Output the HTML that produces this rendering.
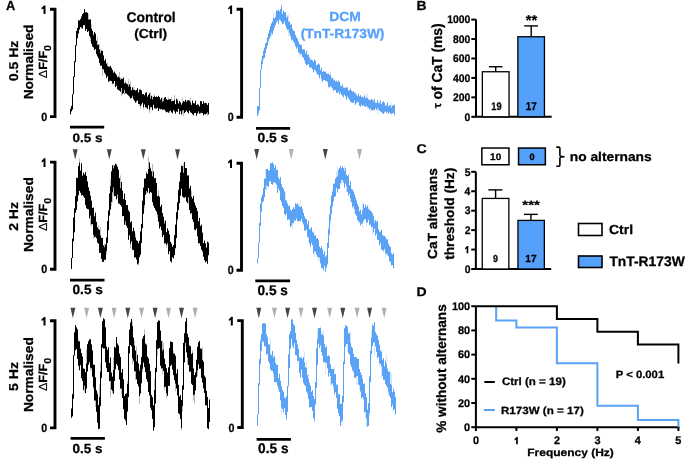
<!DOCTYPE html>
<html><head><meta charset="utf-8"><style>
html,body{margin:0;padding:0;background:#fff;}
svg{display:block;font-family:"Liberation Sans",sans-serif;will-change:transform;}
text{text-rendering:geometricPrecision;}
</style></head><body>
<svg width="685" height="460" viewBox="0 0 685 460">
<rect width="685" height="460" fill="#fff"/>
<text transform="translate(6.08,10.40) scale(0.980,1)" font-size="13.08" fill="#000" font-weight="bold" stroke="#000" stroke-width="0.26" >A</text>
<path d="M50.0,9.25 H55.0 V116.6 H50.0" fill="none" stroke="#000" stroke-width="2.9"/>
<polygon points="45.50,5.45 45.50,14.05 43.50,14.05 43.50,8.45 41.60,9.55 41.60,7.85 44.00,5.45" fill="#000"/>
<text transform="translate(41.13,120.63) scale(0.904,1)" font-size="11.86" fill="#000" font-weight="bold" stroke="#000" stroke-width="0.26" >0</text>
<line x1="70.0" y1="127.1" x2="104.2" y2="127.1" stroke="#000" stroke-width="2.8" stroke-linecap="butt"/>
<text transform="translate(72.51,141.73) scale(1.101,1)" font-size="12.29" fill="#000" font-weight="bold" stroke="#000" stroke-width="0.26" >0.5 s</text>
<path d="M236.6,9.3 H241.6 V117.3 H236.6" fill="none" stroke="#000" stroke-width="2.9"/>
<polygon points="232.10,5.50 232.10,14.10 230.10,14.10 230.10,8.50 228.20,9.60 228.20,7.90 230.60,5.50" fill="#000"/>
<text transform="translate(227.73,121.33) scale(0.904,1)" font-size="11.86" fill="#000" font-weight="bold" stroke="#000" stroke-width="0.26" >0</text>
<line x1="256.0" y1="128.4" x2="290.1" y2="128.4" stroke="#000" stroke-width="2.8" stroke-linecap="butt"/>
<text transform="translate(257.50,142.02) scale(1.055,1)" font-size="13.14" fill="#000" font-weight="bold" stroke="#000" stroke-width="0.26" >0.5 s</text>
<text transform="translate(18.03,81.31) rotate(-90) scale(1.107,1)" font-size="12.71" fill="#000" font-weight="bold" stroke="#000" stroke-width="0.26" >0.5 Hz</text>
<text transform="translate(32.72,99.37) rotate(-90) scale(1.052,1)" font-size="13.07" fill="#000" font-weight="bold" stroke="#000" stroke-width="0.26" >Normalised</text>
<text transform="translate(47.10,78.28) rotate(-90) scale(1.07,1)" font-size="11.8" font-weight="bold" stroke="#000" stroke-width="0.26"><tspan font-weight="normal" stroke-width="0.1">Δ</tspan>F/F<tspan font-size="10" dy="4.1" stroke-width="0.15">0</tspan></text>
<path d="M50.0,162.1 H55.0 V269.3 H50.0" fill="none" stroke="#000" stroke-width="2.9"/>
<polygon points="45.50,158.30 45.50,166.90 43.50,166.90 43.50,161.30 41.60,162.40 41.60,160.70 44.00,158.30" fill="#000"/>
<text transform="translate(41.13,273.33) scale(0.904,1)" font-size="11.86" fill="#000" font-weight="bold" stroke="#000" stroke-width="0.26" >0</text>
<line x1="70.0" y1="280.1" x2="104.5" y2="280.1" stroke="#000" stroke-width="2.8" stroke-linecap="butt"/>
<text transform="translate(72.51,294.12) scale(1.019,1)" font-size="13.42" fill="#000" font-weight="bold" stroke="#000" stroke-width="0.26" >0.5 s</text>
<path d="M236.5,163.2 H241.5 V270.3 H236.5" fill="none" stroke="#000" stroke-width="2.9"/>
<polygon points="232.00,159.40 232.00,168.00 230.00,168.00 230.00,162.40 228.10,163.50 228.10,161.80 230.50,159.40" fill="#000"/>
<text transform="translate(227.63,274.33) scale(0.904,1)" font-size="11.86" fill="#000" font-weight="bold" stroke="#000" stroke-width="0.26" >0</text>
<line x1="255.3" y1="280.95" x2="290.1" y2="280.95" stroke="#000" stroke-width="2.8" stroke-linecap="butt"/>
<text transform="translate(257.51,294.51) scale(0.978,1)" font-size="13.98" fill="#000" font-weight="bold" stroke="#000" stroke-width="0.26" >0.5 s</text>
<text transform="translate(18.15,230.79) rotate(-90) scale(1.086,1)" font-size="12.89" fill="#000" font-weight="bold" stroke="#000" stroke-width="0.26" >2 Hz</text>
<text transform="translate(32.72,252.07) rotate(-90) scale(1.052,1)" font-size="13.07" fill="#000" font-weight="bold" stroke="#000" stroke-width="0.26" >Normalised</text>
<text transform="translate(47.10,231.08) rotate(-90) scale(1.07,1)" font-size="11.8" font-weight="bold" stroke="#000" stroke-width="0.26"><tspan font-weight="normal" stroke-width="0.1">Δ</tspan>F/F<tspan font-size="10" dy="4.1" stroke-width="0.15">0</tspan></text>
<path d="M50.0,320.7 H55.0 V427.9 H50.0" fill="none" stroke="#000" stroke-width="2.9"/>
<polygon points="45.50,316.90 45.50,325.50 43.50,325.50 43.50,319.90 41.60,321.00 41.60,319.30 44.00,316.90" fill="#000"/>
<text transform="translate(41.13,431.93) scale(0.904,1)" font-size="11.86" fill="#000" font-weight="bold" stroke="#000" stroke-width="0.26" >0</text>
<line x1="70.6" y1="438.3" x2="104.9" y2="438.3" stroke="#000" stroke-width="2.8" stroke-linecap="butt"/>
<text transform="translate(72.51,452.52) scale(1.030,1)" font-size="13.14" fill="#000" font-weight="bold" stroke="#000" stroke-width="0.26" >0.5 s</text>
<path d="M237.3,320.6 H242.3 V427.5 H237.3" fill="none" stroke="#000" stroke-width="2.9"/>
<polygon points="232.80,316.80 232.80,325.40 230.80,325.40 230.80,319.80 228.90,320.90 228.90,319.20 231.30,316.80" fill="#000"/>
<text transform="translate(228.43,431.53) scale(0.904,1)" font-size="11.86" fill="#000" font-weight="bold" stroke="#000" stroke-width="0.26" >0</text>
<line x1="256.6" y1="439.3" x2="290.9" y2="439.3" stroke="#000" stroke-width="2.8" stroke-linecap="butt"/>
<text transform="translate(258.11,452.61) scale(0.978,1)" font-size="13.98" fill="#000" font-weight="bold" stroke="#000" stroke-width="0.26" >0.5 s</text>
<text transform="translate(18.02,390.98) rotate(-90) scale(1.095,1)" font-size="12.90" fill="#000" font-weight="bold" stroke="#000" stroke-width="0.26" >5 Hz</text>
<text transform="translate(32.72,412.07) rotate(-90) scale(1.052,1)" font-size="13.07" fill="#000" font-weight="bold" stroke="#000" stroke-width="0.26" >Normalised</text>
<text transform="translate(47.10,391.08) rotate(-90) scale(1.07,1)" font-size="11.8" font-weight="bold" stroke="#000" stroke-width="0.26"><tspan font-weight="normal" stroke-width="0.1">Δ</tspan>F/F<tspan font-size="10" dy="4.1" stroke-width="0.15">0</tspan></text>
<text transform="translate(126.48,21.51) scale(0.988,1)" font-size="14.03" fill="#000" font-weight="bold" stroke="#000" stroke-width="0.26" >Control</text>
<text transform="translate(134.26,38.13) scale(1.052,1)" font-size="13.09" fill="#000" font-weight="bold" stroke="#000" stroke-width="0.26" >(Ctrl)</text>
<text transform="translate(329.27,21.04) scale(1.050,1)" font-size="13.20" fill="#55a0fb" font-weight="bold" stroke="#55a0fb" stroke-width="0.26" >DCM</text>
<text transform="translate(300.67,37.51) scale(1.039,1)" font-size="13.20" fill="#55a0fb" font-weight="bold" stroke="#55a0fb" stroke-width="0.26" >(TnT-R173W)</text>
<path d="M88.5 13.8V19.6M90.5 37.7V41.6M91.5 24.6V28.6M93.5 33.6V35.3M97.5 37.4V45.0M99.5 44.2V49.7M100.5 48.8V53.3M101.5 65.6V66.2M102.5 68.8V76.0M105.5 74.3V75.1M107.5 62.3V66.1M112.5 83.6V84.4M119.5 72.0V77.7M120.5 77.4V79.6M121.5 87.9V96.2M124.5 82.5V83.5M124.5 89.9V95.0M125.5 80.5V82.6M125.5 93.3V94.0M128.5 79.1V86.4M130.5 81.2V86.9M132.5 95.8V98.0M133.5 87.0V89.8M136.5 101.3V102.7M137.5 100.3V100.9M139.5 104.1V105.9M140.5 106.1V109.2M143.5 107.4V109.6M149.5 109.6V113.0M150.5 92.2V98.6M150.5 106.9V109.5M152.5 95.8V99.4M154.5 93.7V96.1M162.5 97.4V101.9M163.5 98.8V100.8M168.5 97.7V99.4M169.5 111.2V112.9M171.5 96.8V101.3M173.5 109.9V111.2M174.5 94.9V99.9M177.5 98.5V100.5M178.5 103.0V103.4M182.5 97.8V102.9M182.5 110.6V113.9M183.5 110.2V116.3M186.5 100.5V102.0M190.5 97.7V102.4M197.5 103.8V104.4M198.5 111.5V113.3M200.5 112.8V114.6M203.5 115.1V116.3M207.5 112.5V115.9M208.5 114.3V114.8" fill="none" stroke="#000" stroke-width="0.60" opacity="0.45"/>
<path d="M70.5 108.7V114.3M71.5 105.9V111.4M72.5 94.2V109.6M73.5 76.4V94.2M74.5 61.2V77.1M75.5 45.2V62.0M76.5 31.0V45.7M77.5 27.9V38.2M78.5 20.4V33.5M79.5 20.4V29.5M80.5 19.1V27.2M81.5 16.5V27.6M82.5 14.2V28.7M83.5 13.0V25.3M84.5 9.1V25.3M85.5 12.4V30.8M86.5 12.1V29.1M87.5 12.9V32.0M88.5 19.6V31.1M89.5 19.4V36.0M90.5 19.4V37.7M91.5 28.6V43.7M92.5 30.8V46.6M93.5 35.3V47.4M94.5 32.1V50.1M95.5 33.6V49.0M96.5 40.7V54.2M97.5 45.0V56.4M98.5 44.7V58.4M99.5 49.7V63.1M100.5 53.3V65.8M101.5 50.6V65.6M102.5 50.9V68.8M103.5 55.4V69.5M104.5 60.7V72.7M105.5 59.2V74.3M106.5 63.6V77.9M107.5 66.1V76.3M108.5 66.5V81.7M109.5 66.8V81.2M110.5 65.9V80.7M111.5 67.8V81.2M112.5 69.9V83.6M113.5 72.7V83.6M114.5 71.5V81.0M115.5 73.5V87.2M116.5 74.7V85.7M117.5 77.2V89.4M118.5 76.5V90.0M119.5 77.7V90.7M120.5 79.6V91.8M121.5 78.7V87.9M122.5 78.8V94.1M123.5 77.6V93.2M124.5 83.5V89.9M125.5 82.6V93.3M126.5 83.5V93.5M127.5 84.2V94.6M128.5 86.4V95.6M129.5 84.3V96.7M130.5 86.9V98.5M131.5 90.4V98.0M132.5 87.4V95.8M133.5 89.8V99.3M134.5 89.8V100.8M135.5 90.6V102.7M136.5 90.0V101.3M137.5 88.2V100.3M138.5 92.5V103.9M139.5 89.6V104.1M140.5 89.6V106.1M141.5 90.4V104.6M142.5 94.2V102.8M143.5 94.0V107.4M144.5 95.2V104.5M145.5 92.8V107.3M146.5 92.3V107.6M147.5 96.6V109.0M148.5 94.8V105.3M149.5 93.3V109.6M150.5 98.6V106.9M151.5 95.8V107.3M152.5 99.4V110.2M153.5 97.1V104.9M154.5 96.1V108.4M155.5 97.0V108.5M156.5 96.5V108.5M157.5 97.0V107.7M158.5 95.8V111.1M159.5 97.1V108.7M160.5 99.6V109.4M161.5 97.9V109.0M162.5 101.9V109.7M163.5 100.8V109.7M164.5 97.6V109.6M165.5 97.1V111.3M166.5 99.2V112.4M167.5 99.9V111.9M168.5 99.4V112.8M169.5 99.4V111.2M170.5 99.0V110.7M171.5 101.3V112.3M172.5 100.9V113.3M173.5 100.9V109.9M174.5 99.9V111.4M175.5 104.1V113.7M176.5 98.8V111.5M177.5 100.5V111.8M178.5 103.4V108.9M179.5 101.2V114.2M180.5 102.3V111.2M181.5 104.6V114.5M182.5 102.9V110.6M183.5 101.1V110.2M184.5 101.7V113.1M185.5 99.8V111.9M186.5 102.0V110.5M187.5 100.4V112.1M188.5 100.1V113.3M189.5 100.7V110.6M190.5 102.4V112.4M191.5 104.8V112.9M192.5 100.5V114.3M193.5 103.1V115.2M194.5 103.3V113.1M195.5 100.7V112.9M196.5 105.0V115.8M197.5 104.4V113.5M198.5 104.7V111.5M199.5 106.4V113.7M200.5 101.1V112.8M201.5 101.1V113.0M202.5 104.0V113.0M203.5 101.3V115.1M204.5 103.2V114.0M205.5 102.8V114.5M206.5 103.4V113.7M207.5 104.9V112.5M208.5 103.0V114.3" fill="none" stroke="#000" stroke-width="1.00" opacity="1.0"/>
<path d="M258.5 113.2V115.0M261.5 59.0V60.7M263.5 58.7V60.6M270.5 35.9V38.8M271.5 32.8V36.5M273.5 12.2V17.9M275.5 13.1V17.0M276.5 22.3V22.9M278.5 23.5V26.6M281.5 3.7V6.0M282.5 12.1V14.0M286.5 15.0V17.8M287.5 15.0V16.4M288.5 14.6V21.5M288.5 29.6V36.0M289.5 33.2V35.2M290.5 23.3V24.8M294.5 42.9V44.7M299.5 52.9V56.2M300.5 54.1V55.4M304.5 60.3V61.2M305.5 52.5V53.4M308.5 53.3V54.8M310.5 56.8V60.1M319.5 78.1V78.6M320.5 69.6V70.1M320.5 74.6V75.6M321.5 79.1V81.6M329.5 87.3V87.7M330.5 71.8V74.8M333.5 78.1V80.3M340.5 84.1V85.8M345.5 87.5V87.9M345.5 96.1V98.2M348.5 97.9V99.5M354.5 100.7V105.6M357.5 101.5V103.7M365.5 93.0V98.2M367.5 93.7V98.2M367.5 107.1V109.0M368.5 107.7V108.3M370.5 108.1V111.1M373.5 99.0V101.5M377.5 107.9V114.0M379.5 100.6V103.2M380.5 111.4V112.2M386.5 104.3V105.3M388.5 105.8V106.5M391.5 102.3V107.7M391.5 113.6V115.6" fill="none" stroke="#5aa2f5" stroke-width="0.60" opacity="0.45"/>
<path d="M257.5 106.0V116.1M258.5 106.3V113.2M259.5 88.2V110.3M260.5 69.4V88.2M261.5 60.7V69.4M262.5 55.8V64.2M263.5 50.7V58.7M264.5 47.6V58.0M265.5 43.5V53.1M266.5 42.0V48.9M267.5 37.3V45.6M268.5 33.2V41.1M269.5 29.8V38.5M270.5 25.9V35.9M271.5 23.4V32.8M272.5 21.4V34.4M273.5 17.9V30.6M274.5 18.1V27.5M275.5 17.0V25.1M276.5 10.5V22.3M277.5 10.9V20.9M278.5 9.7V23.5M279.5 11.5V19.6M280.5 9.0V20.4M281.5 6.0V21.9M282.5 14.0V23.9M283.5 10.5V23.9M284.5 12.0V21.5M285.5 12.3V25.5M286.5 17.8V28.2M287.5 16.4V29.9M288.5 21.5V29.6M289.5 21.5V33.2M290.5 24.8V36.2M291.5 24.3V40.5M292.5 29.1V39.5M293.5 30.9V41.9M294.5 31.1V42.9M295.5 35.0V46.3M296.5 37.3V48.8M297.5 38.6V47.3M298.5 41.5V52.6M299.5 43.9V52.9M300.5 44.8V54.1M301.5 45.1V54.2M302.5 49.3V57.0M303.5 49.4V57.8M304.5 49.5V60.3M305.5 53.4V63.8M306.5 50.6V65.3M307.5 54.9V65.0M308.5 54.8V64.1M309.5 57.6V67.1M310.5 60.1V67.8M311.5 59.5V67.7M312.5 60.4V69.2M313.5 61.9V72.4M314.5 59.5V69.7M315.5 60.6V70.8M316.5 65.3V72.7M317.5 64.7V74.8M318.5 63.4V74.8M319.5 64.5V78.1M320.5 70.1V74.6M321.5 67.5V79.1M322.5 71.9V81.7M323.5 71.0V80.3M324.5 71.9V80.2M325.5 71.4V80.9M326.5 73.3V80.9M327.5 73.9V82.1M328.5 73.5V87.2M329.5 74.8V87.3M330.5 74.8V86.0M331.5 78.2V87.2M332.5 77.5V88.4M333.5 80.3V90.9M334.5 79.7V90.1M335.5 81.5V90.1M336.5 80.7V92.9M337.5 82.1V93.1M338.5 80.6V91.7M339.5 81.9V94.4M340.5 85.8V92.5M341.5 86.3V94.7M342.5 84.4V95.6M343.5 87.6V97.4M344.5 87.6V94.9M345.5 87.9V96.1M346.5 87.5V99.5M347.5 87.3V96.7M348.5 90.6V97.9M349.5 90.0V99.7M350.5 88.6V101.9M351.5 90.7V102.3M352.5 91.6V102.8M353.5 91.2V102.8M354.5 92.4V100.7M355.5 93.4V104.4M356.5 94.6V103.0M357.5 96.1V101.5M358.5 93.5V102.4M359.5 96.3V105.8M360.5 95.2V106.7M361.5 96.7V104.7M362.5 96.7V106.1M363.5 97.5V105.2M364.5 95.6V106.5M365.5 98.2V106.9M366.5 97.3V105.8M367.5 98.2V107.1M368.5 99.3V107.7M369.5 100.1V109.5M370.5 99.8V108.1M371.5 99.1V110.5M372.5 99.7V109.9M373.5 101.5V110.0M374.5 99.3V110.3M375.5 102.6V108.4M376.5 102.9V110.0M377.5 100.0V107.9M378.5 103.1V109.5M379.5 103.2V110.9M380.5 100.3V111.4M381.5 104.1V112.1M382.5 102.1V113.4M383.5 101.3V113.9M384.5 102.7V112.4M385.5 105.7V111.5M386.5 105.3V113.2M387.5 102.3V111.7M388.5 106.5V113.9M389.5 105.5V112.5M390.5 105.2V113.6M391.5 107.7V113.6M392.5 105.5V113.5M393.5 105.5V112.9M394.5 104.7V115.3" fill="none" stroke="#5aa2f5" stroke-width="1.00" opacity="1.0"/>
<polygon points="72.75,149.20 77.65,149.20 75.20,159.60" fill="#454545"/>
<polygon points="106.85,149.20 111.75,149.20 109.30,159.60" fill="#454545"/>
<polygon points="140.85,149.20 145.75,149.20 143.30,159.60" fill="#454545"/>
<polygon points="175.05,149.20 179.95,149.20 177.50,159.60" fill="#454545"/>
<polygon points="254.25,149.00 259.15,149.00 256.70,159.60" fill="#454545"/>
<polygon points="288.75,149.00 293.65,149.00 291.20,159.60" fill="#b0b0b0"/>
<polygon points="322.85,149.00 327.75,149.00 325.30,159.60" fill="#454545"/>
<polygon points="357.05,149.00 361.95,149.00 359.50,159.60" fill="#b0b0b0"/>
<path d="M79.5 158.5V162.5M90.5 215.6V224.8M91.5 224.2V226.5M93.5 234.8V239.0M95.5 211.0V212.9M98.5 225.4V229.1M100.5 227.2V235.5M104.5 243.5V247.2M106.5 251.1V254.3M110.5 179.2V186.2M111.5 201.9V206.0M112.5 192.3V202.3M113.5 164.6V168.3M113.5 187.5V195.3M116.5 199.1V200.1M117.5 194.4V197.9M120.5 175.4V188.2M125.5 221.3V225.0M130.5 243.9V248.6M132.5 249.7V250.6M135.5 234.3V237.5M138.5 263.3V265.5M139.5 240.3V240.9M144.5 205.1V208.5M146.5 171.1V173.1M146.5 191.0V193.6M148.5 156.9V169.0M150.5 166.6V168.3M152.5 163.9V176.3M157.5 214.6V217.9M158.5 190.0V195.6M161.5 230.0V230.8M164.5 220.7V223.4M166.5 244.8V247.7M167.5 243.1V245.3M177.5 219.0V221.1M178.5 188.6V190.2M183.5 163.4V172.9M188.5 197.3V204.3M190.5 213.4V214.9M191.5 190.5V196.6M202.5 251.0V252.7M208.5 241.7V242.9" fill="none" stroke="#000" stroke-width="0.60" opacity="0.45"/>
<path d="M71.5 258.0V269.0M72.5 238.7V258.0M73.5 217.5V241.3M74.5 208.3V232.3M75.5 196.1V212.7M76.5 177.8V209.9M77.5 177.9V201.4M78.5 166.0V195.3M79.5 162.5V190.9M80.5 170.7V192.8M81.5 163.2V195.4M82.5 175.7V195.0M83.5 172.7V196.4M84.5 174.3V197.9M85.5 172.1V205.1M86.5 176.0V208.2M87.5 181.5V209.1M88.5 187.3V209.4M89.5 191.0V218.3M90.5 195.6V215.6M91.5 200.7V224.2M92.5 207.9V224.2M93.5 207.6V234.8M94.5 216.4V237.3M95.5 212.9V236.8M96.5 221.8V238.3M97.5 227.3V242.6M98.5 229.1V243.7M99.5 229.8V253.0M100.5 235.5V252.8M101.5 237.9V258.9M102.5 237.9V261.9M103.5 245.4V261.9M104.5 247.2V259.9M105.5 244.5V259.7M106.5 237.5V251.1M107.5 221.0V243.0M108.5 210.4V230.2M109.5 193.5V215.7M110.5 186.2V209.7M111.5 171.3V201.9M112.5 165.3V192.3M113.5 168.3V187.5M114.5 165.5V196.2M115.5 163.7V196.1M116.5 164.5V199.1M117.5 166.7V194.4M118.5 169.7V203.5M119.5 178.2V203.8M120.5 188.2V205.1M121.5 182.0V206.5M122.5 190.5V216.2M123.5 199.0V216.0M124.5 193.6V224.8M125.5 200.0V221.3M126.5 205.2V225.9M127.5 205.0V228.1M128.5 210.4V239.9M129.5 211.9V235.3M130.5 222.3V243.9M131.5 221.3V241.3M132.5 231.3V249.7M133.5 227.7V250.0M134.5 231.1V257.5M135.5 237.5V257.3M136.5 240.3V259.5M137.5 241.1V264.4M138.5 243.3V263.3M139.5 240.9V257.1M140.5 231.4V254.7M141.5 223.9V242.9M142.5 200.6V228.1M143.5 187.6V213.9M144.5 178.6V205.1M145.5 178.5V194.8M146.5 173.1V191.0M147.5 173.9V192.6M148.5 169.0V188.1M149.5 162.4V193.5M150.5 168.3V192.0M151.5 171.2V192.8M152.5 176.3V202.1M153.5 171.5V205.7M154.5 178.1V207.9M155.5 178.1V210.1M156.5 183.0V211.7M157.5 196.2V214.6M158.5 195.6V221.7M159.5 196.8V228.5M160.5 206.7V226.6M161.5 204.7V230.0M162.5 213.1V237.1M163.5 216.7V235.0M164.5 223.4V243.5M165.5 220.6V243.3M166.5 232.2V244.8M167.5 228.3V243.1M168.5 230.6V254.2M169.5 234.4V251.3M170.5 241.8V261.2M171.5 243.7V262.4M172.5 246.7V257.2M173.5 245.0V258.5M174.5 235.2V255.1M175.5 224.6V248.3M176.5 212.2V238.1M177.5 202.3V219.0M178.5 190.2V210.1M179.5 181.7V203.0M180.5 172.4V195.7M181.5 165.7V188.7M182.5 166.1V196.5M183.5 172.9V197.5M184.5 162.0V197.8M185.5 168.1V196.9M186.5 168.1V201.7M187.5 175.4V203.0M188.5 175.4V197.3M189.5 188.4V210.0M190.5 185.9V213.4M191.5 196.6V213.3M192.5 198.5V219.4M193.5 195.9V222.0M194.5 202.5V229.7M195.5 205.5V230.2M196.5 207.9V228.5M197.5 211.2V236.4M198.5 221.4V243.3M199.5 218.0V243.3M200.5 226.0V245.9M201.5 224.6V249.7M202.5 232.6V251.0M203.5 243.1V256.7M204.5 240.5V260.2M205.5 243.3V262.2M206.5 247.5V261.3M207.5 241.6V263.8M208.5 242.9V255.2" fill="none" stroke="#000" stroke-width="1.00" opacity="1.0"/>
<path d="M258.5 241.4V242.8M265.5 169.0V178.6M266.5 185.4V190.8M269.5 169.9V170.4M270.5 181.1V182.1M273.5 182.1V185.2M277.5 167.7V169.9M285.5 193.2V199.9M287.5 220.2V220.5M292.5 223.4V228.2M294.5 208.5V209.0M298.5 202.6V205.8M300.5 200.4V207.1M308.5 237.8V242.7M311.5 242.7V244.1M314.5 232.3V235.9M314.5 251.3V256.8M318.5 257.2V262.2M319.5 257.5V260.4M323.5 270.0V272.8M324.5 265.6V267.4M328.5 226.0V229.3M329.5 234.0V235.7M330.5 220.7V224.2M331.5 194.2V196.0M332.5 188.5V191.5M334.5 181.7V184.0M336.5 171.2V177.0M337.5 165.9V176.5M337.5 192.6V193.0M341.5 180.4V185.3M344.5 165.9V171.1M346.5 186.2V192.1M350.5 198.5V202.2M353.5 205.9V209.4M354.5 209.2V214.3M362.5 201.9V210.4M362.5 223.5V228.1M366.5 222.6V226.1M369.5 204.6V210.4M371.5 227.1V229.1M372.5 226.8V236.8M374.5 220.6V222.5M382.5 249.9V251.0M383.5 250.6V252.5M384.5 248.8V250.4M385.5 253.3V257.9M386.5 253.8V255.5M390.5 261.8V263.9" fill="none" stroke="#5aa2f5" stroke-width="0.60" opacity="0.45"/>
<path d="M257.5 258.1V263.3M258.5 242.8V258.1M259.5 222.8V242.8M260.5 203.7V225.8M261.5 197.2V211.6M262.5 194.4V202.5M263.5 187.9V201.1M264.5 178.5V197.2M265.5 178.6V189.4M266.5 168.9V185.4M267.5 168.9V186.1M268.5 170.6V186.9M269.5 170.4V181.5M270.5 163.1V181.1M271.5 163.3V184.0M272.5 162.2V184.5M273.5 164.0V182.1M274.5 167.9V182.4M275.5 165.1V182.8M276.5 170.2V184.7M277.5 169.9V192.9M278.5 177.5V188.5M279.5 179.4V190.9M280.5 177.1V200.1M281.5 184.1V202.1M282.5 187.0V206.0M283.5 188.7V207.7M284.5 191.3V214.1M285.5 199.9V215.3M286.5 200.8V213.5M287.5 203.3V220.2M288.5 205.8V219.5M289.5 205.7V219.5M290.5 209.7V226.9M291.5 210.8V225.6M292.5 208.9V223.4M293.5 207.1V223.0M294.5 209.0V220.4M295.5 203.4V220.8M296.5 204.2V218.5M297.5 203.5V221.2M298.5 205.8V221.4M299.5 206.7V221.1M300.5 207.1V221.4M301.5 206.2V218.8M302.5 208.8V222.3M303.5 212.8V224.5M304.5 216.4V230.7M305.5 218.6V230.6M306.5 219.2V229.5M307.5 224.4V236.7M308.5 220.8V237.8M309.5 229.2V243.6M310.5 228.9V246.8M311.5 227.1V242.7M312.5 231.6V245.3M313.5 232.7V253.7M314.5 235.9V251.3M315.5 235.2V251.9M316.5 238.5V254.7M317.5 238.0V256.9M318.5 239.9V257.2M319.5 246.5V257.5M320.5 248.2V263.4M321.5 246.0V268.2M322.5 249.2V268.2M323.5 254.1V270.0M324.5 251.1V265.6M325.5 256.8V271.9M326.5 255.3V267.5M327.5 242.8V264.4M328.5 229.3V247.9M329.5 214.3V234.0M330.5 205.4V220.7M331.5 196.0V213.9M332.5 191.5V206.6M333.5 183.7V201.4M334.5 184.0V197.0M335.5 178.5V196.2M336.5 177.0V187.9M337.5 176.5V192.6M338.5 169.8V189.0M339.5 168.1V189.0M340.5 165.7V183.4M341.5 168.2V180.4M342.5 166.3V180.1M343.5 168.1V182.7M344.5 171.1V187.8M345.5 168.2V183.7M346.5 174.5V186.2M347.5 176.1V192.1M348.5 174.8V195.5M349.5 185.2V193.9M350.5 181.2V198.5M351.5 189.0V202.3M352.5 189.5V207.4M353.5 191.6V205.9M354.5 194.3V209.2M355.5 197.3V214.0M356.5 200.5V215.9M357.5 203.9V220.0M358.5 206.4V221.4M359.5 211.2V222.3M360.5 209.7V225.6M361.5 214.6V223.8M362.5 210.4V223.5M363.5 204.1V221.2M364.5 207.8V219.5M365.5 204.7V219.1M366.5 207.2V222.6M367.5 205.4V222.6M368.5 208.9V219.8M369.5 210.4V225.3M370.5 210.4V224.5M371.5 211.8V227.1M372.5 213.4V226.8M373.5 215.9V232.5M374.5 222.5V228.5M375.5 219.9V235.7M376.5 221.7V233.8M377.5 220.7V239.7M378.5 229.0V240.1M379.5 231.7V245.4M380.5 231.5V243.3M381.5 229.8V249.6M382.5 234.6V249.9M383.5 235.9V250.6M384.5 235.9V248.8M385.5 237.2V253.3M386.5 239.3V253.8M387.5 239.3V254.8M388.5 243.6V256.4M389.5 245.9V261.2M390.5 247.0V261.8M391.5 253.2V265.5M392.5 254.4V265.1M393.5 253.1V268.3" fill="none" stroke="#5aa2f5" stroke-width="1.00" opacity="1.0"/>
<polygon points="70.45,307.80 75.35,307.80 72.90,318.30" fill="#454545"/>
<polygon points="84.15,307.80 89.05,307.80 86.60,318.30" fill="#b0b0b0"/>
<polygon points="97.95,307.80 102.85,307.80 100.40,318.30" fill="#454545"/>
<polygon points="111.65,307.80 116.55,307.80 114.10,318.30" fill="#b0b0b0"/>
<polygon points="125.35,307.80 130.25,307.80 127.80,318.30" fill="#454545"/>
<polygon points="139.05,307.80 143.95,307.80 141.50,318.30" fill="#b0b0b0"/>
<polygon points="152.65,307.80 157.55,307.80 155.10,318.30" fill="#454545"/>
<polygon points="166.05,307.80 170.95,307.80 168.50,318.30" fill="#b0b0b0"/>
<polygon points="179.05,307.80 183.95,307.80 181.50,318.30" fill="#454545"/>
<polygon points="192.65,307.80 197.55,307.80 195.10,318.30" fill="#b0b0b0"/>
<polygon points="256.35,307.80 261.25,307.80 258.80,318.30" fill="#454545"/>
<polygon points="272.05,307.80 276.95,307.80 274.50,318.30" fill="#b0b0b0"/>
<polygon points="285.15,307.80 290.05,307.80 287.60,318.30" fill="#454545"/>
<polygon points="298.55,307.80 303.45,307.80 301.00,318.30" fill="#b0b0b0"/>
<polygon points="312.05,307.80 316.95,307.80 314.50,318.30" fill="#454545"/>
<polygon points="327.25,307.80 332.15,307.80 329.70,318.30" fill="#b0b0b0"/>
<polygon points="340.35,307.80 345.25,307.80 342.80,318.30" fill="#454545"/>
<polygon points="354.65,307.80 359.55,307.80 357.10,318.30" fill="#b0b0b0"/>
<polygon points="367.15,307.80 372.05,307.80 369.60,318.30" fill="#454545"/>
<polygon points="381.75,307.80 386.65,307.80 384.20,318.30" fill="#b0b0b0"/>
<path d="M72.5 393.2V394.2M78.5 339.5V341.3M82.5 355.2V356.9M84.5 385.5V392.6M86.5 349.5V363.3M90.5 367.7V371.0M93.5 387.3V389.1M95.5 400.6V407.1M97.5 392.0V394.2M99.5 384.3V397.0M100.5 363.0V371.5M103.5 317.6V318.4M110.5 380.9V397.5M112.5 390.9V393.2M113.5 357.1V370.0M121.5 388.6V394.1M125.5 420.2V421.7M127.5 381.0V383.8M130.5 322.1V322.7M132.5 321.4V326.1M132.5 358.3V364.3M133.5 360.6V361.9M134.5 340.8V345.6M135.5 350.0V350.6M135.5 371.5V379.7M136.5 346.4V361.4M139.5 368.8V370.9M139.5 396.0V403.9M142.5 368.9V372.7M144.5 329.3V334.6M154.5 379.0V390.0M157.5 348.8V355.6M162.5 340.8V350.6M162.5 368.4V374.4M163.5 343.2V349.4M164.5 386.9V390.3M166.5 393.4V397.7M173.5 350.7V353.5M175.5 383.7V391.3M177.5 395.3V395.9M181.5 428.2V430.2M182.5 406.0V411.8M185.5 342.8V345.9M187.5 357.6V364.4M192.5 350.3V352.9M193.5 395.2V400.5M194.5 394.5V403.6M197.5 370.5V376.0M202.5 347.7V360.0" fill="none" stroke="#000" stroke-width="0.60" opacity="0.45"/>
<path d="M71.5 408.5V417.8M72.5 394.2V416.3M73.5 355.2V398.8M74.5 332.3V355.5M75.5 325.2V350.2M76.5 327.3V349.0M77.5 329.3V359.0M78.5 341.3V365.8M79.5 341.3V370.3M80.5 348.6V365.2M81.5 353.0V378.2M82.5 356.9V380.9M83.5 368.4V389.9M84.5 368.9V385.5M85.5 372.0V393.1M86.5 363.3V388.6M87.5 344.1V371.5M88.5 341.2V364.7M89.5 339.3V362.3M90.5 339.3V367.7M91.5 344.3V368.5M92.5 350.3V376.7M93.5 364.6V387.3M94.5 364.9V400.6M95.5 377.4V400.6M96.5 390.3V411.8M97.5 394.2V422.7M98.5 405.2V429.1M99.5 397.0V428.7M100.5 371.5V406.1M101.5 344.2V377.9M102.5 321.2V347.7M103.5 318.4V348.6M104.5 319.3V348.5M105.5 327.3V362.3M106.5 346.6V368.1M107.5 349.8V372.0M108.5 347.2V372.0M109.5 362.9V381.2M110.5 357.5V380.9M111.5 372.5V389.6M112.5 376.6V390.9M113.5 370.0V393.8M114.5 346.8V381.0M115.5 347.8V369.3M116.5 337.0V364.0M117.5 343.5V365.7M118.5 345.6V370.0M119.5 353.6V379.6M120.5 356.9V388.6M121.5 372.6V388.6M122.5 369.0V397.9M123.5 379.4V409.2M124.5 395.9V418.8M125.5 393.9V420.2M126.5 393.3V424.9M127.5 383.8V411.6M128.5 346.1V397.1M129.5 329.6V353.4M130.5 322.7V345.0M131.5 318.9V346.4M132.5 326.1V358.3M133.5 337.6V360.6M134.5 345.6V371.2M135.5 350.6V371.5M136.5 361.4V379.3M137.5 354.8V384.0M138.5 363.4V386.4M139.5 370.9V396.0M140.5 364.8V393.5M141.5 356.9V383.3M142.5 338.7V368.9M143.5 336.2V362.6M144.5 334.6V367.2M145.5 343.5V372.1M146.5 344.6V379.0M147.5 356.6V381.7M148.5 358.3V392.0M149.5 363.7V395.4M150.5 371.1V407.6M151.5 395.0V410.2M152.5 397.2V418.9M153.5 405.3V430.7M154.5 390.0V427.2M155.5 367.8V403.5M156.5 340.2V371.9M157.5 322.0V348.8M158.5 320.4V348.8M159.5 320.7V348.0M160.5 330.5V365.8M161.5 340.9V368.4M162.5 350.6V368.4M163.5 349.4V371.0M164.5 358.6V386.9M165.5 364.2V386.9M166.5 368.2V393.4M167.5 372.5V395.8M168.5 367.3V385.9M169.5 348.1V385.9M170.5 341.4V366.0M171.5 341.9V364.7M172.5 342.2V369.7M173.5 353.5V375.1M174.5 353.7V380.1M175.5 355.7V383.7M176.5 373.6V388.5M177.5 369.2V395.3M178.5 384.8V413.3M179.5 396.5V414.3M180.5 395.2V419.0M181.5 400.0V428.2M182.5 385.5V406.0M183.5 342.9V389.7M184.5 333.2V362.3M185.5 321.6V342.8M186.5 318.0V352.4M187.5 333.8V357.6M188.5 337.2V365.0M189.5 345.5V371.6M190.5 346.3V371.6M191.5 353.9V383.7M192.5 352.9V385.0M193.5 368.4V395.2M194.5 375.1V394.5M195.5 372.3V390.4M196.5 359.8V377.2M197.5 346.7V370.5M198.5 342.2V364.4M199.5 340.9V368.7M200.5 348.5V368.7M201.5 348.8V377.9M202.5 360.0V382.5M203.5 361.6V388.4M204.5 375.6V392.9M205.5 377.5V405.4M206.5 390.9V405.4M207.5 397.0V428.2M208.5 408.0V429.1M209.5 399.5V422.0" fill="none" stroke="#000" stroke-width="1.00" opacity="1.0"/>
<path d="M259.5 384.8V386.1M260.5 338.5V340.7M266.5 354.0V356.1M267.5 336.0V337.4M270.5 337.5V353.7M273.5 373.6V377.0M275.5 359.1V362.9M278.5 388.8V393.0M281.5 407.6V414.2M283.5 391.4V391.9M288.5 385.8V387.9M297.5 360.9V364.0M300.5 377.3V378.5M301.5 355.7V358.1M303.5 382.8V383.7M304.5 352.2V362.3M306.5 361.3V368.0M307.5 393.6V394.5M308.5 373.7V378.8M314.5 420.1V422.8M317.5 330.3V338.8M320.5 326.2V328.0M321.5 330.8V334.6M323.5 329.8V335.8M325.5 362.4V373.7M330.5 376.0V385.4M333.5 386.3V390.2M334.5 365.7V374.1M342.5 419.8V426.0M347.5 344.3V351.8M350.5 331.4V342.6M356.5 376.4V385.4M359.5 385.3V389.6M362.5 374.2V379.2M363.5 398.5V400.7M365.5 412.1V417.9M366.5 418.5V426.1M369.5 413.1V416.9M371.5 330.3V337.7M371.5 353.9V354.5M372.5 323.2V324.9M374.5 342.0V355.5M377.5 334.3V335.8M379.5 363.1V366.8M381.5 349.5V351.8M381.5 366.3V377.6M384.5 365.1V366.4M386.5 354.7V364.2M388.5 391.7V395.3M390.5 370.1V383.8M391.5 374.2V384.8M392.5 404.7V406.3M393.5 387.8V388.8" fill="none" stroke="#5aa2f5" stroke-width="0.60" opacity="0.45"/>
<path d="M257.5 414.5V425.8M258.5 383.3V414.5M259.5 359.0V384.8M260.5 340.7V364.0M261.5 334.2V350.8M262.5 323.8V341.2M263.5 323.0V342.1M264.5 323.1V346.3M265.5 323.7V346.3M266.5 334.5V354.0M267.5 337.4V354.0M268.5 344.0V361.2M269.5 344.6V363.6M270.5 353.7V369.5M271.5 355.2V370.8M272.5 350.9V371.0M273.5 357.5V373.6M274.5 355.9V382.1M275.5 362.9V382.0M276.5 364.7V382.5M277.5 364.8V385.8M278.5 377.9V388.8M279.5 373.9V391.8M280.5 380.8V400.4M281.5 386.2V407.6M282.5 390.0V409.2M283.5 391.9V412.1M284.5 397.3V408.1M285.5 398.3V415.0M286.5 396.1V419.5M287.5 385.8V411.9M288.5 354.4V385.8M289.5 334.0V368.1M290.5 331.3V348.6M291.5 319.2V338.9M292.5 319.5V345.8M293.5 323.9V348.4M294.5 325.8V343.2M295.5 332.9V355.1M296.5 339.7V355.4M297.5 344.4V360.9M298.5 348.9V360.9M299.5 357.3V372.8M300.5 357.3V377.3M301.5 358.1V369.7M302.5 358.9V377.9M303.5 357.0V382.8M304.5 362.3V384.8M305.5 367.1V385.9M306.5 368.0V391.7M307.5 375.0V393.6M308.5 378.8V399.1M309.5 383.0V407.3M310.5 385.8V407.3M311.5 391.8V407.1M312.5 390.2V410.7M313.5 396.0V417.9M314.5 399.1V420.1M315.5 382.1V404.5M316.5 348.3V388.0M317.5 338.8V364.8M318.5 328.1V343.7M319.5 328.0V348.1M320.5 328.0V345.5M321.5 334.6V352.2M322.5 334.0V355.7M323.5 335.8V362.3M324.5 343.7V362.3M325.5 347.5V362.4M326.5 346.3V363.3M327.5 356.1V368.4M328.5 355.3V376.6M329.5 356.4V373.2M330.5 364.1V376.0M331.5 368.8V384.6M332.5 369.0V383.3M333.5 369.0V386.3M334.5 374.1V394.4M335.5 374.1V392.2M336.5 384.7V397.9M337.5 384.6V408.9M338.5 394.4V413.3M339.5 394.0V416.2M340.5 404.0V426.0M341.5 403.4V421.7M342.5 395.9V419.8M343.5 361.5V402.2M344.5 328.2V364.0M345.5 325.3V346.8M346.5 325.7V344.0M347.5 326.8V344.3M348.5 333.2V353.1M349.5 333.2V354.6M350.5 342.6V364.4M351.5 346.6V367.0M352.5 348.2V370.3M353.5 353.8V371.9M354.5 357.0V377.7M355.5 357.2V377.7M356.5 357.2V376.4M357.5 358.8V376.3M358.5 358.8V384.5M359.5 369.0V385.3M360.5 372.2V391.6M361.5 374.8V398.3M362.5 379.2V397.0M363.5 383.6V398.5M364.5 383.6V412.2M365.5 393.3V412.1M366.5 397.3V418.5M367.5 409.6V426.8M368.5 403.1V425.8M369.5 376.5V413.1M370.5 350.6V382.1M371.5 337.7V353.9M372.5 324.9V346.1M373.5 325.7V342.7M374.5 322.2V342.0M375.5 332.2V346.6M376.5 334.4V351.8M377.5 335.8V358.0M378.5 340.0V356.9M379.5 344.7V363.1M380.5 350.7V364.1M381.5 351.8V366.3M382.5 359.8V376.2M383.5 358.1V379.9M384.5 366.4V379.9M385.5 360.6V384.0M386.5 364.2V386.0M387.5 368.8V387.7M388.5 371.7V391.7M389.5 371.7V395.6M390.5 383.8V398.0M391.5 384.8V407.2M392.5 392.2V404.7M393.5 388.8V410.3M394.5 391.6V409.3M395.5 397.1V414.5" fill="none" stroke="#5aa2f5" stroke-width="1.00" opacity="1.0"/>
<text transform="translate(416.57,10.20) scale(1.065,1)" font-size="13.08" fill="#000" font-weight="bold" stroke="#000" stroke-width="0.26" >B</text>
<path d="M476,19.6 V116.8 H551.7" fill="none" stroke="#000" stroke-width="2"/>
<line x1="471.3" y1="116.8" x2="476" y2="116.8" stroke="#000" stroke-width="2" stroke-linecap="butt"/>
<text transform="translate(464.47,120.59) scale(0.940,1)" font-size="11.00" fill="#000" font-weight="bold" stroke="#000" stroke-width="0.26" >0</text>
<line x1="471.3" y1="97.36" x2="476" y2="97.36" stroke="#000" stroke-width="2" stroke-linecap="butt"/>
<text transform="translate(452.97,101.15) scale(0.940,1)" font-size="11.00" fill="#000" font-weight="bold" stroke="#000" stroke-width="0.26" >200</text>
<line x1="471.3" y1="77.92" x2="476" y2="77.92" stroke="#000" stroke-width="2" stroke-linecap="butt"/>
<text transform="translate(452.97,81.71) scale(0.940,1)" font-size="11.00" fill="#000" font-weight="bold" stroke="#000" stroke-width="0.26" >400</text>
<line x1="471.3" y1="58.480000000000004" x2="476" y2="58.480000000000004" stroke="#000" stroke-width="2" stroke-linecap="butt"/>
<text transform="translate(452.97,62.27) scale(0.940,1)" font-size="11.00" fill="#000" font-weight="bold" stroke="#000" stroke-width="0.26" >600</text>
<line x1="471.3" y1="39.040000000000006" x2="476" y2="39.040000000000006" stroke="#000" stroke-width="2" stroke-linecap="butt"/>
<text transform="translate(452.97,42.83) scale(0.940,1)" font-size="11.00" fill="#000" font-weight="bold" stroke="#000" stroke-width="0.26" >800</text>
<line x1="471.3" y1="19.60000000000001" x2="476" y2="19.60000000000001" stroke="#000" stroke-width="2" stroke-linecap="butt"/>
<text transform="translate(447.22,23.39) scale(0.940,1)" font-size="11.00" fill="#000" font-weight="bold" stroke="#000" stroke-width="0.26" >1000</text>
<rect x="482.35" y="71.7478" width="26.7" height="45.0522" fill="#fff" stroke="#000" stroke-width="1.3"/>
<rect x="517.85" y="36.755799999999994" width="26.6" height="80.0442" fill="#55a0fb" stroke="#000" stroke-width="1.3"/>
<line x1="495.7" y1="71.7478" x2="495.7" y2="66.742" stroke="#000" stroke-width="1.4" stroke-linecap="butt"/>
<line x1="488.9" y1="66.742" x2="502.5" y2="66.742" stroke="#000" stroke-width="1.4" stroke-linecap="butt"/>
<line x1="531.2" y1="36.755799999999994" x2="531.2" y2="25.918000000000006" stroke="#000" stroke-width="1.4" stroke-linecap="butt"/>
<line x1="524.2" y1="25.918000000000006" x2="538.0" y2="25.918000000000006" stroke="#000" stroke-width="1.4" stroke-linecap="butt"/>
<text transform="translate(525.71,25.35) scale(1.033,1)" font-size="14.24" fill="#000" font-weight="bold" stroke="#000" stroke-width="0.26" >**</text>
<text transform="translate(491.27,110.04) scale(0.843,1)" font-size="11.02" fill="#000" font-weight="bold" stroke="#000" stroke-width="0.26" >19</text>
<text transform="translate(525.72,110.15) scale(0.877,1)" font-size="11.34" fill="#000" font-weight="bold" stroke="#000" stroke-width="0.26" >17</text>
<text transform="translate(441.74,99.49) rotate(-90) scale(0.956,1)" font-size="14.48" fill="#000" font-weight="bold" stroke="#000" stroke-width="0.26" >of CaT (ms)</text>
<text transform="translate(441.39,108.20) rotate(-90) scale(1.024,1)" font-size="11.14" fill="#000" font-weight="bold" stroke="#000" stroke-width="0.26" >τ</text>
<text transform="translate(416.52,152.78) scale(1.107,1)" font-size="12.71" fill="#000" font-weight="bold" stroke="#000" stroke-width="0.26" >C</text>
<rect x="481.85" y="148.05" width="27.1" height="16.7" fill="#fff" stroke="#000" stroke-width="1.5"/>
<rect x="518.55" y="148.05" width="26.8" height="16.7" fill="#55a0fb" stroke="#000" stroke-width="1.5"/>
<text transform="translate(490.12,159.86) scale(1.059,1)" font-size="9.46" fill="#000" font-weight="bold" stroke="#000" stroke-width="0.26" >10</text>
<text transform="translate(529.38,159.86) scale(0.978,1)" font-size="9.46" fill="#000" font-weight="bold" stroke="#000" stroke-width="0.26" >0</text>
<path d="M556.3,147.1 H558.6 Q559.9,147.1 559.9,148.5 V155.2 Q559.9,156.6 564.6,156.7 Q559.9,156.8 559.9,158.2 V164.8 Q559.9,166.2 558.6,166.2 H556.3" fill="none" stroke="#000" stroke-width="1.6"/>
<text transform="translate(569.74,160.62) scale(1.077,1)" font-size="12.80" fill="#000" font-weight="bold" stroke="#000" stroke-width="0.26" >no alternans</text>
<path d="M475.85,171.8 V269.0 H551.2" fill="none" stroke="#000" stroke-width="2"/>
<line x1="471.2" y1="269.0" x2="475.85" y2="269.0" stroke="#000" stroke-width="2" stroke-linecap="butt"/>
<text transform="translate(464.87,272.79) scale(0.940,1)" font-size="11.00" fill="#000" font-weight="bold" stroke="#000" stroke-width="0.26" >0</text>
<line x1="471.2" y1="249.56" x2="475.85" y2="249.56" stroke="#000" stroke-width="2" stroke-linecap="butt"/>
<polygon points="468.30,245.96 468.30,253.16 466.63,253.16 466.63,248.47 465.03,249.39 465.03,247.97 467.04,245.96" fill="#000"/>
<line x1="471.2" y1="230.12" x2="475.85" y2="230.12" stroke="#000" stroke-width="2" stroke-linecap="butt"/>
<text transform="translate(464.86,233.96) scale(0.940,1)" font-size="11.00" fill="#000" font-weight="bold" stroke="#000" stroke-width="0.26" >2</text>
<line x1="471.2" y1="210.68" x2="475.85" y2="210.68" stroke="#000" stroke-width="2" stroke-linecap="butt"/>
<text transform="translate(464.82,214.46) scale(0.940,1)" font-size="11.00" fill="#000" font-weight="bold" stroke="#000" stroke-width="0.26" >3</text>
<line x1="471.2" y1="191.24" x2="475.85" y2="191.24" stroke="#000" stroke-width="2" stroke-linecap="butt"/>
<text transform="translate(464.50,195.02) scale(0.940,1)" font-size="11.00" fill="#000" font-weight="bold" stroke="#000" stroke-width="0.26" >4</text>
<line x1="471.2" y1="171.8" x2="475.85" y2="171.8" stroke="#000" stroke-width="2" stroke-linecap="butt"/>
<text transform="translate(464.74,175.53) scale(0.940,1)" font-size="11.00" fill="#000" font-weight="bold" stroke="#000" stroke-width="0.26" >5</text>
<rect x="482.25" y="198.43280000000001" width="26.6" height="70.56719999999999" fill="#fff" stroke="#000" stroke-width="1.3"/>
<rect x="517.95" y="220.4" width="26.4" height="48.599999999999994" fill="#55a0fb" stroke="#000" stroke-width="1.3"/>
<line x1="495.6" y1="198.43280000000001" x2="495.6" y2="189.8792" stroke="#000" stroke-width="1.4" stroke-linecap="butt"/>
<line x1="488.4" y1="189.8792" x2="502.5" y2="189.8792" stroke="#000" stroke-width="1.4" stroke-linecap="butt"/>
<line x1="530.9" y1="220.4" x2="530.9" y2="214.3736" stroke="#000" stroke-width="1.4" stroke-linecap="butt"/>
<line x1="524.0" y1="214.3736" x2="537.8" y2="214.3736" stroke="#000" stroke-width="1.4" stroke-linecap="butt"/>
<text transform="translate(522.31,208.97) scale(1.244,1)" font-size="12.09" fill="#000" font-weight="bold" stroke="#000" stroke-width="0.26" >***</text>
<text transform="translate(492.94,261.86) scale(0.870,1)" font-size="10.20" fill="#000" font-weight="bold" stroke="#000" stroke-width="0.26" >9</text>
<text transform="translate(525.20,261.86) scale(1.004,1)" font-size="10.20" fill="#000" font-weight="bold" stroke="#000" stroke-width="0.26" >17</text>
<text transform="translate(437.42,258.91) rotate(-90) scale(1.039,1)" font-size="13.21" fill="#000" font-weight="bold" stroke="#000" stroke-width="0.26" >CaT alternans</text>
<text transform="translate(453.61,259.82) rotate(-90) scale(1.039,1)" font-size="13.20" fill="#000" font-weight="bold" stroke="#000" stroke-width="0.26" >threshold (Hz)</text>
<rect x="578.5" y="223.5" width="23.5" height="12" fill="#fff" stroke="#000" stroke-width="1.6"/>
<rect x="578.5" y="256" width="23.5" height="11.5" fill="#55a0fb" stroke="#000" stroke-width="1.6"/>
<text transform="translate(608.98,233.52) scale(1.069,1)" font-size="13.07" fill="#000" font-weight="bold" stroke="#000" stroke-width="0.26" >Ctrl</text>
<text transform="translate(609.39,266.39) scale(1.003,1)" font-size="13.81" fill="#000" font-weight="bold" stroke="#000" stroke-width="0.26" >TnT-R173W</text>
<text transform="translate(416.56,295.90) scale(1.135,1)" font-size="12.35" fill="#000" font-weight="bold" stroke="#000" stroke-width="0.26" >D</text>
<path d="M475.9,306.2 V427.2 H679.4" fill="none" stroke="#000" stroke-width="2"/>
<line x1="471.29999999999995" y1="427.2" x2="475.9" y2="427.2" stroke="#000" stroke-width="2" stroke-linecap="butt"/>
<text transform="translate(463.99,430.99) scale(0.990,1)" font-size="11.00" fill="#000" font-weight="bold" stroke="#000" stroke-width="0.26" >0</text>
<line x1="471.29999999999995" y1="403.0" x2="475.9" y2="403.0" stroke="#000" stroke-width="2" stroke-linecap="butt"/>
<text transform="translate(457.93,406.79) scale(0.990,1)" font-size="11.00" fill="#000" font-weight="bold" stroke="#000" stroke-width="0.26" >20</text>
<line x1="471.29999999999995" y1="378.8" x2="475.9" y2="378.8" stroke="#000" stroke-width="2" stroke-linecap="butt"/>
<text transform="translate(457.93,382.59) scale(0.990,1)" font-size="11.00" fill="#000" font-weight="bold" stroke="#000" stroke-width="0.26" >40</text>
<line x1="471.29999999999995" y1="354.6" x2="475.9" y2="354.6" stroke="#000" stroke-width="2" stroke-linecap="butt"/>
<text transform="translate(457.93,358.39) scale(0.990,1)" font-size="11.00" fill="#000" font-weight="bold" stroke="#000" stroke-width="0.26" >60</text>
<line x1="471.29999999999995" y1="330.4" x2="475.9" y2="330.4" stroke="#000" stroke-width="2" stroke-linecap="butt"/>
<text transform="translate(457.93,334.19) scale(0.990,1)" font-size="11.00" fill="#000" font-weight="bold" stroke="#000" stroke-width="0.26" >80</text>
<line x1="471.29999999999995" y1="306.2" x2="475.9" y2="306.2" stroke="#000" stroke-width="2" stroke-linecap="butt"/>
<text transform="translate(451.88,309.99) scale(0.990,1)" font-size="11.00" fill="#000" font-weight="bold" stroke="#000" stroke-width="0.26" >100</text>
<line x1="475.9" y1="427.2" x2="475.9" y2="431.0" stroke="#000" stroke-width="2" stroke-linecap="butt"/>
<text transform="translate(472.88,444.29) scale(0.990,1)" font-size="11.00" fill="#000" font-weight="bold" stroke="#000" stroke-width="0.26" >0</text>
<line x1="516.4" y1="427.2" x2="516.4" y2="431.0" stroke="#000" stroke-width="2" stroke-linecap="butt"/>
<polygon points="517.80,437.00 517.80,444.20 516.13,444.20 516.13,439.51 514.53,440.43 514.53,439.01 516.54,437.00" fill="#000"/>
<line x1="556.9" y1="427.2" x2="556.9" y2="431.0" stroke="#000" stroke-width="2" stroke-linecap="butt"/>
<text transform="translate(553.90,444.34) scale(0.990,1)" font-size="11.00" fill="#000" font-weight="bold" stroke="#000" stroke-width="0.26" >2</text>
<line x1="597.4" y1="427.2" x2="597.4" y2="431.0" stroke="#000" stroke-width="2" stroke-linecap="butt"/>
<text transform="translate(594.44,444.28) scale(0.990,1)" font-size="11.00" fill="#000" font-weight="bold" stroke="#000" stroke-width="0.26" >3</text>
<line x1="637.9" y1="427.2" x2="637.9" y2="431.0" stroke="#000" stroke-width="2" stroke-linecap="butt"/>
<text transform="translate(634.82,444.28) scale(0.990,1)" font-size="11.00" fill="#000" font-weight="bold" stroke="#000" stroke-width="0.26" >4</text>
<line x1="678.4" y1="427.2" x2="678.4" y2="431.0" stroke="#000" stroke-width="2" stroke-linecap="butt"/>
<text transform="translate(675.36,444.23) scale(0.990,1)" font-size="11.00" fill="#000" font-weight="bold" stroke="#000" stroke-width="0.26" >5</text>
<polyline points="496.15,306.20 496.15,320.44 516.40,320.44 516.40,327.55 556.90,327.55 556.90,363.14 597.40,363.14 597.40,405.85 637.90,405.85 637.90,420.08 678.40,420.08 678.40,427.20" fill="none" stroke="#5aa2f5" stroke-width="2" stroke-linejoin="miter"/>
<polyline points="475.90,306.20 556.90,306.20 556.90,318.94 597.40,318.94 597.40,331.67 637.90,331.67 637.90,344.41 678.40,344.41 678.40,363.52" fill="none" stroke="#000" stroke-width="2" stroke-linejoin="miter"/>
<line x1="484.3" y1="382" x2="494.8" y2="382" stroke="#000" stroke-width="2" stroke-linecap="butt"/>
<line x1="483.8" y1="410" x2="494.8" y2="410" stroke="#5aa2f5" stroke-width="2" stroke-linecap="butt"/>
<text transform="translate(501.88,385.20) scale(1.067,1)" font-size="10.84" fill="#000" font-weight="bold" stroke="#000" stroke-width="0.26" >Ctrl (n = 19)</text>
<text transform="translate(500.97,413.99) scale(1.114,1)" font-size="10.41" fill="#000" font-weight="bold" stroke="#000" stroke-width="0.26" >R173W (n = 17)</text>
<text transform="translate(615.69,377.85) scale(1.068,1)" font-size="10.59" fill="#000" font-weight="bold" stroke="#000" stroke-width="0.26" >P &lt; 0.001</text>
<text transform="translate(527.25,455.77) scale(1.142,1)" font-size="10.51" fill="#000" font-weight="bold" stroke="#000" stroke-width="0.26" >Frequency (Hz)</text>
<text transform="translate(446.02,432.79) rotate(-90)" font-size="13.62" fill="#000" font-weight="bold" stroke="#000" stroke-width="0.26" >% without alternans</text>
</svg>
</body></html>
